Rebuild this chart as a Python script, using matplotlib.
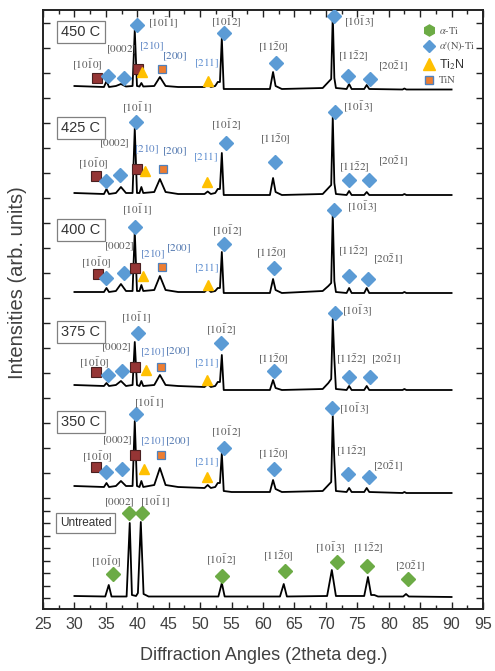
import matplotlib
matplotlib.use("Agg")
import matplotlib.pyplot as plt
import numpy as np
from matplotlib.lines import Line2D
from matplotlib.ticker import MultipleLocator

plt.rcParams["mathtext.fontset"] = "stix"
plt.rcParams["font.family"] = ["Liberation Sans", "DejaVu Sans"]

# ---- data (heights in arb. units above each trace baseline) ----
SAMPLES = ["450 C", "425 C", "400 C", "375 C", "350 C", "Untreated"]
OFFSETS = [521, 414, 316, 222, 121, 12]

NITRIDED_2THETA = [30.0, 34.7, 35.1, 35.5, 36.6, 37.4, 38.2, 39.25, 39.6, 39.95,
                   40.35, 40.65, 40.95, 42.7, 43.6, 44.5, 46.5, 50.7, 51.2, 51.7,
                   52.4, 52.8, 53.15, 53.45, 53.75, 55.0, 61.1, 61.6, 62.0, 63.0,
                   69.5, 70.4, 70.85, 71.1, 71.35, 71.6, 73.3, 73.7, 74.1, 76.1,
                   76.5, 76.9, 82.2, 82.5, 82.8, 90.0]
H_450 = [2, 1, 7, 1, 2, 4, 1.5, 2, 58, 2,
         1.5, 5, 1.5, 2, 11, 2, 1, 1, 3.5, 1,
         2, 6, 6, 50, -1, -1, -1, 16, 2, -1,
         0, 6, 9, 73, 10, 0, -1, 4, -1, -1,
         3, -1, -1.5, -0.5, -1.5, -1.5]
H_425 = [2, 1, 6, 1, 2, 8, 2, 2, 67, 2,
         2, 8, 2, 3, 16, 3, 1, 1, 3.5, 1,
         2, 6, 6, 42, 0, 0, 0, 17, 3, 0,
         1, 7, 10, 78, 12, 1, 0, 4, 0, 0,
         3, 0, 0, 1, 0, 0]
H_400 = [1, 1, 5, 1, 2, 9, 2, 2, 62, 2,
         2, 8, 2, 3, 17, 3, 1, 1, 4, 1,
         2, 5, 5, 41, 0, 0, 0, 14, 3, 0,
         2, 7, 10, 80, 12, 1, 0, 5, 0, 0,
         5, 0, 0, 1, 0, 0]
H_375 = [2, 1, 4, 1, 2, 6, 1, 2, 45, 2,
         1, 6, 1, 2, 12, 2, 1, 0, 3, 0,
         1, 5, 5, 32, -3, -3, -3, 7, -1, -3,
         -2, 4, 8, 68, 28, -2, -3, 1, -3, -3,
         1, -3, -3, -2, -3, -3]
H_350 = [2, 1, 5, 1, 2, 7, 2, 2, 67, 2,
         1, 7, 1, 3, 20, 3, 1, 0, 3, 0,
         1, 5, 5, 35, -3, -4, -4, 8, -1, -4,
         -3, 3, 6, 72, 28, -3, -4, 0, -4, -4,
         0, -4, -5, -4, -5, -5]

UNTREATED_2THETA = [30.0, 34.9, 35.46, 35.9, 38.3, 38.8, 39.15, 39.8, 40.1, 40.56,
                    41.0, 41.8, 52.9, 53.45, 53.9, 62.7, 63.3, 63.8, 70.2, 70.95,
                    71.6, 76.1, 76.7, 77.2, 77.7, 78.3, 82.3, 82.75, 83.2, 90.0]
UNTREATED_H = [1, 0.5, 12, 0.5, 0.5, 74, 2, 1, 4, 75,
               3, 0.5, 0.5, 14, 0.5, 0.5, 13, 0.5, 1, 27,
               1, 1, 20, 2, 2, 0.5, 0.5, 3, 0.5, 0]

TRACES = [(NITRIDED_2THETA, H_450), (NITRIDED_2THETA, H_425),
          (NITRIDED_2THETA, H_400), (NITRIDED_2THETA, H_375),
          (NITRIDED_2THETA, H_350), (UNTREATED_2THETA, UNTREATED_H)]

# phase markers: (phase, 2theta, height above baseline)
MARKERS_450 = [("x", 33.55, 10), ("an", 35.3, 12), ("an", 37.85, 10), ("x", 40.1, 19),
               ("t2n", 40.8, 16), ("an", 39.9, 63), ("tin", 43.9, 19), ("t2n", 51.2, 7),
               ("an", 53.8, 55), ("an", 62.0, 25), ("an", 71.3, 72), ("an", 73.5, 12),
               ("an", 77.0, 9)]
MARKERS_425 = [("x", 33.5, 19), ("an", 35.1, 14), ("an", 37.2, 20), ("x", 39.9, 26),
               ("t2n", 41.2, 24), ("an", 39.75, 73), ("tin", 44.1, 26), ("t2n", 51.1, 13),
               ("an", 54.1, 52), ("an", 61.9, 33), ("an", 71.45, 83), ("an", 73.7, 15),
               ("an", 76.9, 15)]
MARKERS_400 = [("x", 33.7, 19), ("an", 35.1, 15), ("an", 37.9, 20), ("x", 39.6, 25),
               ("t2n", 40.9, 17), ("an", 39.6, 66), ("tin", 43.95, 26), ("t2n", 51.3, 8),
               ("an", 53.8, 49), ("an", 61.7, 25), ("an", 71.3, 83), ("an", 73.7, 17),
               ("an", 76.75, 14)]
MARKERS_375 = [("x", 33.5, 15), ("an", 35.35, 12), ("an", 37.5, 16), ("x", 39.7, 20),
               ("t2n", 41.35, 17), ("an", 40.1, 54), ("tin", 43.7, 20), ("t2n", 51.1, 7),
               ("an", 53.3, 44), ("an", 61.7, 16), ("an", 71.45, 74), ("an", 73.7, 10),
               ("an", 77.0, 10)]
MARKERS_350 = [("x", 33.4, 21), ("an", 35.1, 16), ("an", 37.6, 19), ("x", 39.6, 33),
               ("t2n", 41.0, 19), ("an", 39.75, 74), ("tin", 43.7, 33), ("t2n", 51.1, 11),
               ("an", 53.8, 40), ("an", 61.7, 19), ("an", 71.0, 80), ("an", 73.6, 14),
               ("an", 76.9, 11)]
MARKERS_UNT = [("ti", 36.15, 23), ("ti", 38.7, 84), ("ti", 40.8, 84), ("ti", 53.4, 21),
               ("ti", 63.5, 26), ("ti", 71.7, 35), ("ti", 76.6, 31), ("ti", 83.0, 18)]
MARKERS = [MARKERS_450, MARKERS_425, MARKERS_400, MARKERS_375, MARKERS_350, MARKERS_UNT]

# peak labels: (key, 2theta, height above baseline)
LABELS_450 = [("1010", 32.1, 23), ("0002", 37.4, 38), ("1011", 44.1, 65), ("210", 42.3, 42),
              ("200", 46.0, 31), ("211", 51.0, 25), ("1012", 54.2, 66), ("1120", 61.6, 40),
              ("1013", 75.4, 66), ("1122", 74.3, 31), ("2021", 80.7, 21)]
LABELS_425 = [("1010", 33.0, 31), ("0002", 36.4, 51), ("1011", 40.0, 87), ("210", 41.5, 46),
              ("200", 46.0, 43), ("211", 50.9, 38), ("1012", 54.2, 70), ("1120", 61.9, 55),
              ("1013", 75.1, 88), ("1122", 74.6, 27), ("2021", 80.7, 33)]
LABELS_400 = [("1010", 33.5, 30), ("0002", 37.2, 46), ("1011", 40.0, 83), ("210", 42.4, 39),
              ("200", 46.5, 44), ("211", 51.0, 25), ("1012", 54.4, 62), ("1120", 61.4, 39),
              ("1013", 75.75, 86), ("1122", 74.4, 41), ("2021", 79.9, 33)]
LABELS_375 = [("1010", 33.2, 24), ("0002", 36.7, 39), ("1011", 39.9, 69), ("210", 42.4, 35),
              ("200", 46.4, 35), ("211", 51.0, 24), ("1012", 53.4, 57), ("1120", 61.7, 27),
              ("1013", 75.0, 76), ("1122", 74.1, 27), ("2021", 79.6, 27)]
LABELS_350 = [("1010", 33.6, 31), ("0002", 36.9, 47), ("1011", 41.9, 85), ("210", 42.4, 47),
              ("200", 46.4, 46), ("211", 51.0, 26), ("1012", 54.1, 56), ("1120", 61.6, 33),
              ("1013", 74.6, 79), ("1122", 74.1, 36), ("2021", 79.95, 21)]
LABELS_UNT = [("1010", 35.0, 35), ("0002", 37.2, 94), ("1011", 42.8, 95), ("1012", 53.4, 37),
              ("1120", 62.4, 40), ("1013", 70.65, 49), ("1122", 76.8, 48), ("2021", 83.4, 30)]
LABELS = [LABELS_450, LABELS_425, LABELS_400, LABELS_375, LABELS_350, LABELS_UNT]

# sample name boxes: (2theta, height above baseline)
NAME_POS = [(31.0, 56), (31.0, 67), (31.0, 63), (31.0, 55), (31.0, 66), (31.8, 74)]

MILLER = {
    "1010": r"$[10\bar{1}0]$", "0002": r"$[0002]$", "1011": r"$[10\bar{1}1]$",
    "1012": r"$[10\bar{1}2]$", "1120": r"$[11\bar{2}0]$", "1013": r"$[10\bar{1}3]$",
    "1122": r"$[11\bar{2}2]$", "2021": r"$[20\bar{2}1]$",
    "210": r"$[210]$", "200": r"$[200]$", "211": r"$[211]$",
}
LABEL_COLOR = {"210": "#5f86c4", "200": "#4d74ad", "211": "#5f8fd0"}

PHASE_STYLE = {
    "ti": dict(marker="D", ms=7, mfc="#6cab45", mec="#6cab45"),
    "an": dict(marker="D", ms=6.8, mfc="#5b9bd5", mec="#5b9bd5"),
    "t2n": dict(marker="^", ms=7.5, mfc="#ffc000", mec="#ffc000"),
    "tin": dict(marker="s", ms=5.5, mfc="#ed7d31", mec="#4f81bd", mew=0.9),
    "x": dict(marker="s", ms=7.5, mfc="#953535", mec="#4a2020", mew=0.8),
}

fig = plt.figure(figsize=(4.95, 6.71), dpi=100)
ax = fig.add_axes([43 / 495, 62 / 671, 440 / 495, 599 / 671])

for (tt, hh), off, marks, labs, name, npos in zip(TRACES, OFFSETS, MARKERS, LABELS,
                                                   SAMPLES, NAME_POS):
    ax.plot(tt, np.asarray(hh) + off, color="black", lw=1.3, zorder=2)
    for phase, x, h in marks:
        ax.plot(x, off + h, linestyle="none", zorder=3, **PHASE_STYLE[phase])
    for key, x, h in labs:
        ax.text(x, off + h, MILLER[key], ha="center", va="center", fontsize=8,
                color=LABEL_COLOR.get(key, "#595959"), zorder=4)
    fs = 8.5 if name == "Untreated" else 10.5
    ax.text(npos[0], off + npos[1], name, ha="center", va="center", fontsize=fs,
            color="#333333", zorder=4,
            bbox=dict(boxstyle="square,pad=0.3", fc="white", ec="#808080", lw=0.9))

ax.set_xlim(25, 95)
ax.set_ylim(0, 599)
ax.xaxis.set_major_locator(MultipleLocator(5))
ax.xaxis.set_minor_locator(MultipleLocator(2.5))
ax.set_yticks(np.concatenate([np.arange(11, 111, 12.5), np.arange(111, 599, 25)]))
ax.set_yticklabels([])
ax.tick_params(axis="both", which="both", direction="in", top=True, right=True,
               width=1.0, color="#222222")
ax.tick_params(axis="both", which="major", length=5)
ax.tick_params(axis="x", which="minor", length=3)
ax.tick_params(axis="x", which="major", labelsize=11.5, labelcolor="#404040", pad=6)
for sp in ax.spines.values():
    sp.set_linewidth(1.4)
    sp.set_color("#222222")

fig.text(264 / 495, 1 - 655 / 671, "Diffraction Angles (2theta deg.)", ha="center",
         va="center", fontsize=13, color="#404040")
fig.text(18 / 495, 1 - 283 / 671, "Intensities (arb. units)", ha="center",
         va="center", rotation=90, fontsize=14.5, color="#404040")

handles = [Line2D([], [], linestyle="none", marker="h", ms=8, mfc="#6cab45", mec="#6cab45"),
           Line2D([], [], linestyle="none", marker="D", ms=6.5, mfc="#5b9bd5", mec="#5b9bd5"),
           Line2D([], [], linestyle="none", marker="^", ms=8, mfc="#ffc000", mec="#ffc000"),
           Line2D([], [], linestyle="none", marker="s", ms=6, mfc="#ed7d31", mec="#4f81bd")]
leg = ax.legend(handles, [r"$\alpha$-Ti", r"$\alpha$'(N)-Ti", r"Ti$_2$N", "TiN"],
                loc="upper left", bbox_to_anchor=(424 / 495, 1 - 25 / 671),
                bbox_transform=fig.transFigure, frameon=False, handlelength=1.0,
                handletextpad=0.4, borderpad=0, borderaxespad=0, labelspacing=0.35,
                prop={"family": "STIXGeneral", "size": 7.5})
for t in leg.get_texts():
    t.set_color("#555555")
leg.get_texts()[2].set_fontfamily("Liberation Sans")
leg.get_texts()[2].set_fontsize(9)
leg.get_texts()[2].set_color("#333333")

fig.savefig("out.png", dpi=100)
